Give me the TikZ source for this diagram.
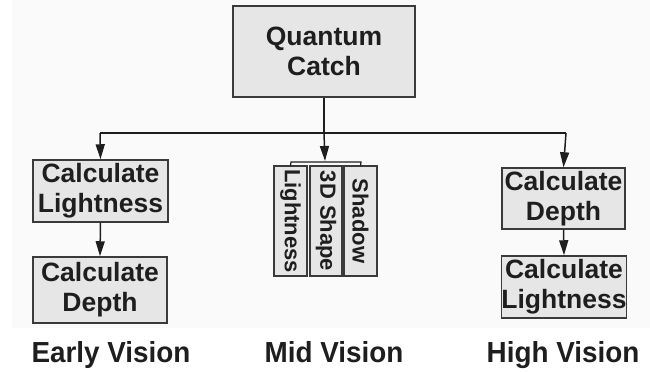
\documentclass[tikz,border=0pt]{standalone}
\usepackage{fontspec}
\setmainfont{Liberation Sans}
\newfontfamily\narrowfont[FakeStretch=0.96]{Liberation Sans}
\usetikzlibrary{arrows.meta}
\definecolor{boxfill}{HTML}{E6E6E6}
\definecolor{ink}{HTML}{1E1E1E}
\definecolor{edge}{HTML}{3A3A3A}
\tikzset{
  procbox/.style={draw=edge, fill=boxfill, line width=1.5pt, inner sep=0pt,
    align=center, text=ink, font=\bfseries\fontsize{26.5}{30}\selectfont},
  stackbox/.style={draw=edge, fill=boxfill, line width=1.5pt, inner sep=0pt,
    rotate=-90, minimum width=110pt, text=ink,
    font=\bfseries\fontsize{22}{26}\selectfont},
  stagelabel/.style={text=ink, inner sep=0pt, anchor=base,
    font=\narrowfont\bfseries\fontsize{29}{34}\selectfont},
  flow/.style={draw=ink, line width=1.5pt, -{Triangle[length=15pt,width=9pt]}},
  wire/.style={draw=ink, line width=1.5pt},
}
\begin{document}
\begin{tikzpicture}[x=1pt, y=-1pt]
  % canvas
  \fill[white] (0,0) rectangle (650,372);
  \fill[black!2] (12,0) rectangle (650,328);
  \useasboundingbox (0,0) rectangle (650,372);

  % source
  \node[procbox, minimum width=182pt, minimum height=91pt] (qc) at (324,51.5) {Quantum\\Catch};

  % early vision
  \node[procbox, minimum width=135pt, minimum height=62pt] (e1) at (100.5,191) {Calculate\\Lightness};
  \node[procbox, minimum width=134pt, minimum height=66pt] (e2) at (100,290) {Calculate\\Depth};

  % high vision
  \node[procbox, minimum width=123pt, minimum height=61pt] (h1) at (563.5,198.5) {Calculate\\Depth};
  \node[procbox, minimum width=124pt, minimum height=62pt] (h2) at (564,287) {Calculate\\Lightness};

  % mid vision stack
  \node[stackbox, minimum height=33pt] (m1) at (290.5,221) {Lightness};
  \node[stackbox, minimum height=32pt] (m2) at (326,221) {3D Shape};
  \node[stackbox, minimum height=33pt] (m3) at (360.5,221) {Shadow};

  % distribution bus
  \coordinate (bus) at (324,133);
  \coordinate (busL) at (100,133);
  \coordinate (busR) at (566,133);
  \draw[wire] (qc.south) -- (bus);
  \draw[wire] (busL) -- (busR);
  \draw[flow] (busL) -- (e1.north);
  \draw[flow] (busR) -- (h1.north);

  % bracket over the stack
  \coordinate (brL) at (291,162);
  \coordinate (brR) at (361,162);
  \draw[wire, line width=1.2pt] (m1.east |- 0,166) -- (brL) -- (brR) -- (m3.east |- 0,166);
  \draw[flow] (bus) -- (325,161);

  % chains
  \draw[flow] (e1.south) -- (e2.north);
  \draw[flow] (h1.south) -- (h2.north);

  % stage labels
  \node[stagelabel] (l1) at (111,362) {Early Vision};
  \node[stagelabel] (l2) at (334,362) {Mid Vision};
  \node[stagelabel] (l3) at (563,362) {High Vision};
\end{tikzpicture}
\end{document}
